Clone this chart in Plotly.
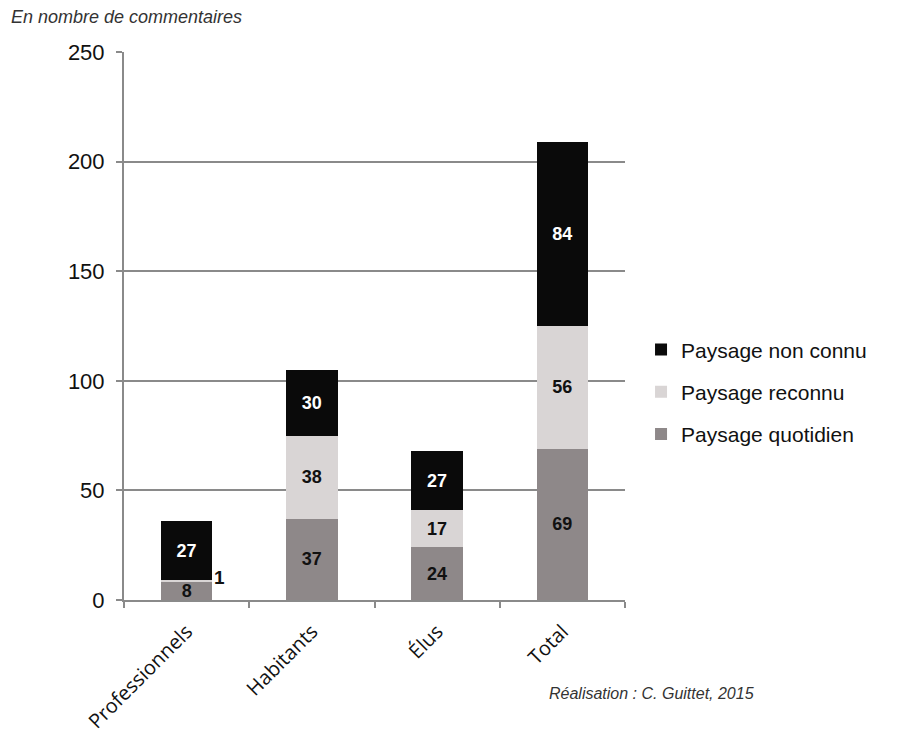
import plotly.graph_objects as go

categories = ["Professionnels", "Habitants", "Élus", "Total"]
quotidien = [8, 37, 24, 69]
reconnu = [1, 38, 17, 56]
non_connu = [27, 30, 27, 84]

series_names = ["Paysage quotidien", "Paysage reconnu", "Paysage non connu"]
y_ticks = [0, 50, 100, 150, 200, 250]

FONT = "Liberation Sans, Arial, sans-serif"

fig = go.Figure()

def inside_text(vals, min_val=3):
    return [str(v) if v >= min_val else "" for v in vals]

common = dict(textposition="inside", insidetextanchor="middle", textangle=0, constraintext="none")

fig.add_trace(go.Bar(
    x=categories, y=quotidien, name=series_names[0], legendgroup="q", legendrank=3,
    marker=dict(color="#8e8889", line=dict(width=0)),
    text=inside_text(quotidien),
    textfont=dict(color="#111111", size=18, family=FONT, weight="bold"), **common,
))
fig.add_trace(go.Bar(
    x=categories, y=reconnu, name=series_names[1], legendgroup="r", legendrank=2,
    marker=dict(color="#d9d5d5", line=dict(width=0)),
    text=inside_text(reconnu),
    textfont=dict(color="#111111", size=18, family=FONT, weight="bold"), **common,
))
fig.add_trace(go.Bar(
    x=categories, y=non_connu, name=series_names[2], legendgroup="n", legendrank=1,
    marker=dict(color="#0a0a0a", line=dict(width=0)),
    text=inside_text(non_connu),
    textfont=dict(color="#ffffff", size=18, family=FONT, weight="bold"), **common,
))

# small segment labels placed beside the bar
for c, q, r in zip(categories, quotidien, reconnu):
    if r < 3:
        fig.add_annotation(x=c, y=q + r, text="<b>%d</b>" % r, showarrow=False,
                           xshift=33, yshift=3, font=dict(size=19, family=FONT, color="#111111"))

# plot area on screen: x 124..625, y 52..600 px (page has an 8 px body margin)
fig.add_annotation(x=-0.2295, y=1.064, xref="paper", yref="paper", xanchor="left", yanchor="middle",
                   text="<i>En nombre de commentaires</i>", showarrow=False,
                   font=dict(size=18, family=FONT, color="#333333"))
fig.add_annotation(x=1.262, y=-0.1715, xref="paper", yref="paper", xanchor="right", yanchor="middle",
                   text="<i>Réalisation : C. Guittet, 2015</i>", showarrow=False,
                   font=dict(size=16, family=FONT, color="#333333"))

fig.update_layout(
    width=890, height=729,
    barmode="stack", bargap=0.59,
    paper_bgcolor="#ffffff", plot_bgcolor="#ffffff",
    margin=dict(l=116, r=273, t=44, b=137, autoexpand=False),
    showlegend=True,
    legend=dict(traceorder="grouped", x=1.032, y=0.38, xanchor="left", yanchor="middle",
                font=dict(size=21, family=FONT, color="#111111"),
                itemwidth=30, tracegroupgap=12, bgcolor="rgba(0,0,0,0)"),
    font=dict(family=FONT, color="#111111"),
    xaxis=dict(showline=True, linecolor="#8a8a8a", linewidth=2, ticks="outside",
               tickson="boundaries", ticklen=6, tickwidth=2, tickcolor="#8a8a8a",
               tickangle=-45, ticklabelstandoff=10,
               tickfont=dict(size=20, family="Open Sans, sans-serif", color="#111111"),
               showgrid=False, automargin=False),
    yaxis=dict(range=[0, 250], tickvals=y_ticks, showline=True, linecolor="#8a8a8a", linewidth=2,
               ticks="outside", ticklen=6, tickwidth=2, tickcolor="#8a8a8a", ticklabelstandoff=7,
               showgrid=True, gridcolor="#8a8a8a", gridwidth=2, zeroline=False,
               tickfont=dict(size=22, family=FONT, color="#111111"), automargin=False),
)

fig.write_html("out.html")
